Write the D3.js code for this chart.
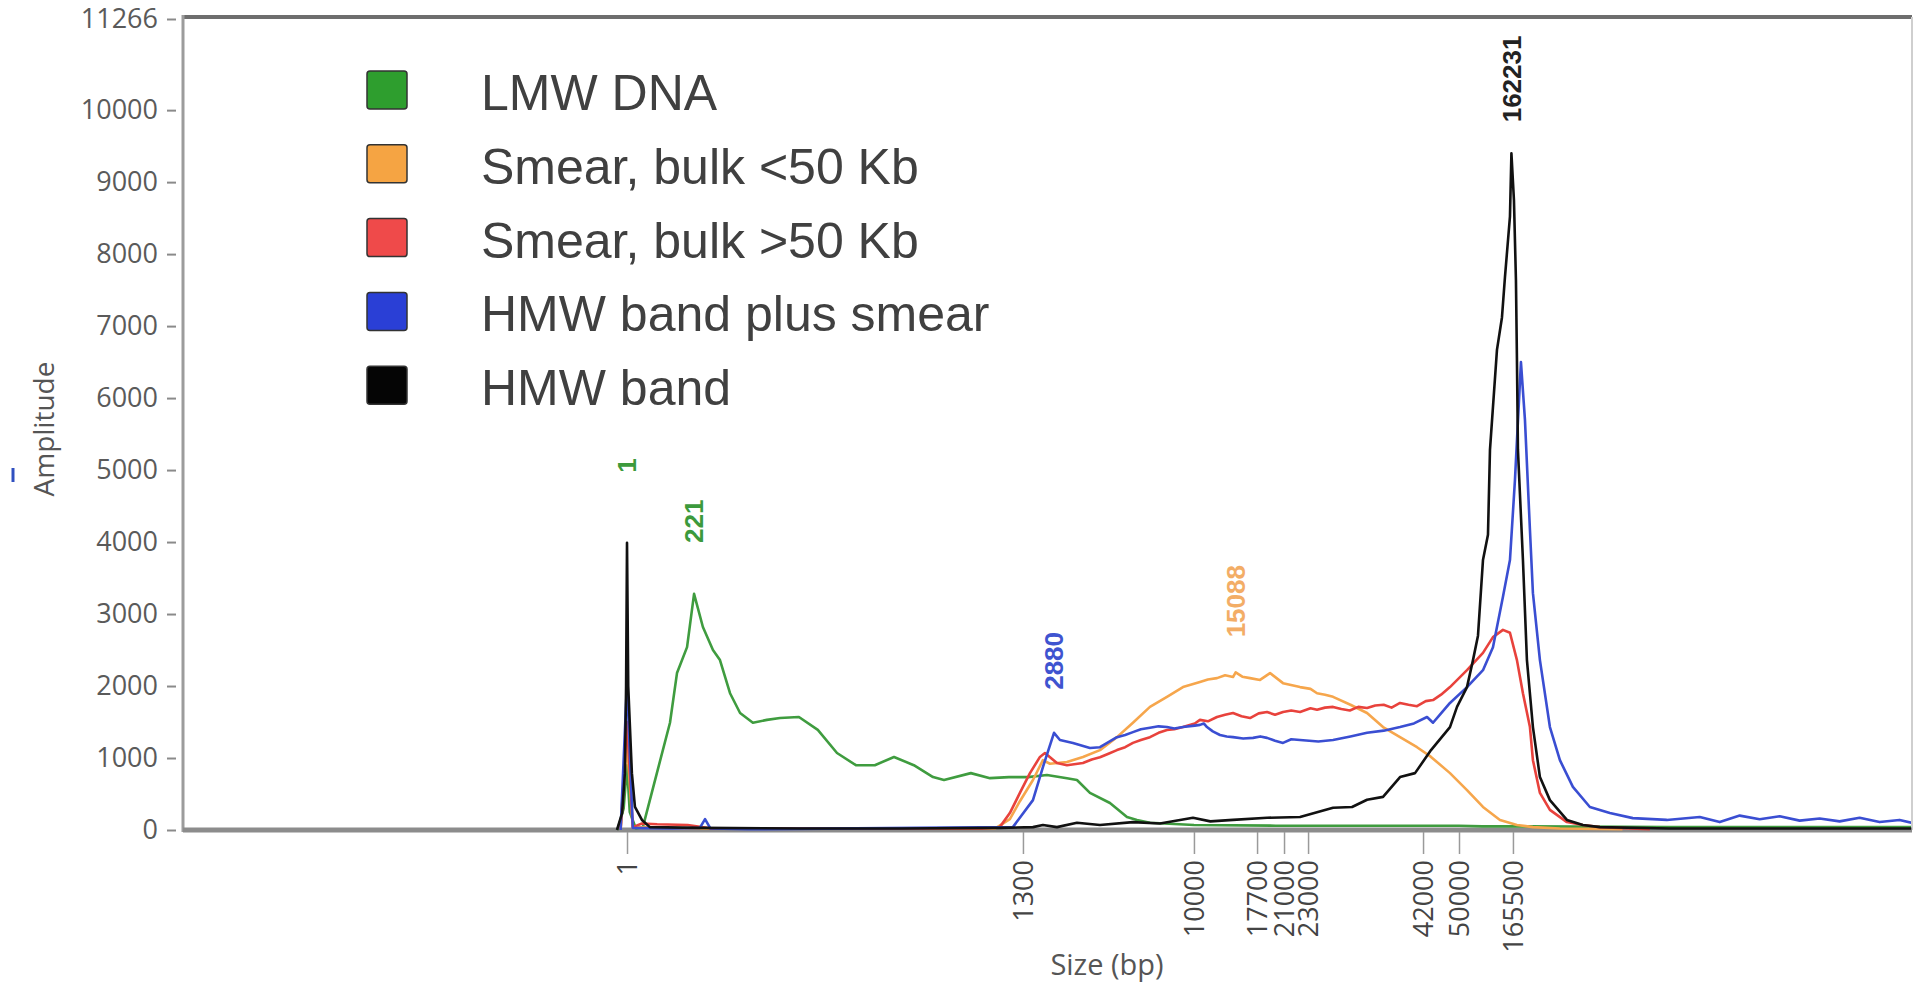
<!DOCTYPE html>
<html><head><meta charset="utf-8">
<script src="https://cdn.jsdelivr.net/npm/d3@7"></script>
<style>html,body{margin:0;padding:0;background:#fff;overflow:hidden}</style>
</head><body><svg id="c" width="1923" height="985"></svg>
<script>
// ---------------- DATA ----------------
const ladderSizes = [1, 1300, 10000, 17700, 21000, 23000, 42000, 50000, 165500];
const ladderTickLabels = ["1", "1300", "10000", "17700", "21000", "23000", "42000", "50000", "165500"];
const yTickValues = [0, 1000, 2000, 3000, 4000, 5000, 6000, 7000, 8000, 9000, 10000, 11266];
const yMax = 11266;

const seriesNames = ["LMW DNA", "Smear, bulk <50 Kb", "Smear, bulk >50 Kb", "HMW band plus smear", "HMW band"];

const lmwSize = [-30, -10, 1, 10, 30, 53, 99, 142, 165, 198, 221, 250, 283, 306, 339, 372, 414, 460, 503, 565, 627, 690, 752, 814, 877, 942, 1005, 1041, 1129, 1192, 1254, 1554, 2521, 3539, 4048, 4709, 5727, 6592, 7100, 7762, 10000, 20000, 50000, 100000, 200000, 500000, 1025000];
const lmwAmp  = [0, 300, 900, 250, 20, 40, 790, 1490, 2180, 2540, 3280, 2820, 2500, 2360, 1900, 1625, 1490, 1530, 1555, 1570, 1390, 1070, 900, 900, 1015, 900, 735, 695, 790, 720, 735, 735, 765, 720, 695, 515, 375, 180, 140, 100, 70, 60, 60, 50, 50, 40, 40];

const smearLowSize = [-20, 1, 20, 60, 150, 250, 1208, 1257, 1290, 1809, 2316, 2674, 3539, 4353, 5218, 6083, 6896, 7762, 8627, 9441, 10733, 11700, 12811, 13800, 14767, 15088, 15900, 16844, 18066, 19288, 20878, 22333, 23400, 24487, 25800, 27130, 30000, 32747, 35390, 38200, 41008, 43776, 47994, 67112, 101336, 137693, 174056, 208280, 266000, 400000];
const smearLowAmp  = [0, 1200, 30, 40, 30, 20, 20, 150, 400, 695, 970, 920, 945, 1015, 1110, 1290, 1490, 1710, 1850, 1985, 2055, 2090, 2110, 2150, 2125, 2190, 2130, 2110, 2085, 2180, 2040, 1985, 1960, 1900, 1880, 1850, 1740, 1625, 1430, 1290, 1150, 1015, 790, 555, 320, 140, 70, 40, 20, 10];

const smearHighSize = [-20, 1, 20, 50, 100, 200, 280, 1165, 1224, 1257, 1290, 1656, 2165, 2419, 3030, 3539, 4353, 4800, 5218, 5650, 6083, 6500, 6896, 7300, 7762, 8200, 8627, 9000, 9441, 10100, 10733, 11700, 12811, 13800, 14767, 15800, 16844, 17900, 18922, 19900, 20878, 21600, 22333, 23400, 24487, 25800, 27130, 28500, 29900, 31300, 32747, 34100, 35500, 36800, 38200, 39600, 41000, 42600, 44220, 46000, 47994, 67112, 101336, 122726, 144116, 159089, 174056, 186890, 201863, 208280, 223253, 244643, 281006, 315230, 351593, 458543];
const smearHighAmp  = [0, 1500, 40, 90, 80, 70, 20, 20, 40, 235, 515, 790, 1015, 1070, 930, 900, 930, 980, 1010, 1060, 1110, 1150, 1210, 1250, 1290, 1350, 1390, 1400, 1430, 1480, 1530, 1510, 1570, 1600, 1625, 1580, 1555, 1620, 1640, 1600, 1640, 1660, 1640, 1690, 1670, 1700, 1710, 1680, 1660, 1710, 1695, 1730, 1740, 1700, 1765, 1740, 1720, 1790, 1805, 1880, 1985, 2220, 2460, 2680, 2780, 2740, 2360, 1900, 1430, 970, 515, 280, 110, 70, 40, 10];

const hmwSmearSize = [-20, 1, 20, 150, 240, 257, 275, 400, 1267, 1809, 2316, 2880, 3183, 3844, 4709, 5218, 5650, 6083, 6500, 6896, 7300, 7762, 8200, 8627, 9000, 9441, 10100, 10733, 11200, 11589, 12300, 13178, 14000, 14767, 16000, 17211, 18100, 18922, 19900, 20878, 21600, 22333, 24700, 27130, 30000, 32747, 35500, 38200, 40500, 42888, 44220, 46000, 47994, 67112, 101336, 122726, 144116, 159089, 169784, 182618, 191174, 201869, 208286, 223259, 244649, 266039, 293846, 330209, 372989, 422186, 494906, 565493, 608273, 651053, 693833, 736613, 779393, 822173, 864953, 907733, 950513, 993293, 1025378];
const hmwSmearAmp  = [0, 2050, 30, 20, 30, 150, 20, 10, 40, 415, 875, 1350, 1250, 1210, 1140, 1150, 1220, 1290, 1320, 1360, 1400, 1420, 1440, 1430, 1410, 1430, 1450, 1460, 1480, 1430, 1370, 1320, 1300, 1290, 1270, 1280, 1300, 1280, 1240, 1210, 1260, 1250, 1230, 1250, 1300, 1350, 1380, 1430, 1480, 1570, 1490, 1620, 1765, 1985, 2220, 2540, 3240, 3750, 4860, 6500, 5700, 4170, 3290, 2360, 1430, 970, 600, 320, 235, 165, 140, 180, 110, 200, 150, 190, 130, 160, 120, 170, 110, 140, 90];

const hmwBandSize = [-32, -15, -6, -2, 1, 5, 17, 27, 50, 76, 240, 568, 896, 1224, 1809, 2316, 3030, 4048, 5218, 6896, 8270, 9950, 12000, 14767, 18922, 22333, 27130, 30269, 32747, 35390, 38200, 40678, 43776, 47994, 49556, 67112, 79946, 90641, 101336, 112031, 116309, 131282, 141977, 148394, 159089, 162231, 167639, 171917, 174056, 176195, 186890, 195446, 208280, 223253, 244643, 281006, 315230, 351593, 500000, 1025000];
const hmwBandAmp  = [0, 235, 790, 2000, 3990, 2000, 790, 320, 140, 40, 30, 20, 20, 30, 40, 70, 40, 100, 70, 110, 90, 170, 120, 140, 170, 180, 310, 320, 420, 460, 735, 790, 1110, 1430, 1710, 1985, 2360, 2700, 3750, 4100, 5280, 6670, 7120, 7680, 8520, 9400, 8750, 7640, 6530, 5280, 3750, 2360, 1430, 735, 415, 140, 70, 40, 20, 20];

const peakLabelText = ["1", "221", "2880", "15088", "162231"];
const peakLabelSize = [1, 221, 2880, 15088, 162231];
const peakLabelAmp  = [3990, 3280, 1350, 2190, 9400];
const peakLabelSeries = [0, 0, 3, 1, 4];

// ---------------- STYLE / LAYOUT ----------------
const lineColors  = ["#3f9c3f", "#f6a64c", "#e8423c", "#3a4ed2", "#111111"];
const swatchColors = ["#2e9e2e", "#f5a443", "#ef4a4a", "#2a3fd6", "#050505"];
const labelColors = ["#3c9a3c", "#f3ad66", "#e8423c", "#3f54d0", "#222222"];
const labelGap = [70, 51, 43, 35, 31];

const plot = {left: 183, right: 1912, top: 17, bottom: 830};
const ladderFrac = [0.2568, 0.4858, 0.5847, 0.6212, 0.6368, 0.6507, 0.7172, 0.7380, 0.7692];
const pw = plot.right - plot.left;

const x = d3.scaleLinear().domain(ladderSizes).range(ladderFrac.map(f => plot.left + f * pw));
const y = d3.scaleLinear().domain([0, yMax]).range([plot.bottom, 19]);

const svg = d3.select("#c");
svg.append("rect").attr("width", 1923).attr("height", 985).attr("fill", "#fff");

svg.append("defs").append("clipPath").attr("id", "clip")
  .append("rect").attr("x", plot.left + 1).attr("y", plot.top).attr("width", pw - 2).attr("height", plot.bottom - plot.top + 2);

// frame
svg.append("line").attr("x1", plot.left).attr("x2", plot.right).attr("y1", plot.top).attr("y2", plot.top)
  .attr("stroke", "#6e6e6e").attr("stroke-width", 4);
svg.append("line").attr("x1", plot.right).attr("x2", plot.right).attr("y1", plot.top).attr("y2", plot.bottom)
  .attr("stroke", "#cfcfcf").attr("stroke-width", 2);
svg.append("line").attr("x1", plot.left).attr("x2", plot.left).attr("y1", plot.top - 2).attr("y2", plot.bottom + 2)
  .attr("stroke", "#9c9c9c").attr("stroke-width", 3);

// y axis
const yAxis = d3.axisLeft(y).tickValues(yTickValues).tickSize(9).tickPadding(9).tickFormat(d => String(d));
const gy = svg.append("g").attr("transform", `translate(${plot.left - 7},0)`).call(yAxis);
gy.select(".domain").remove();
gy.selectAll(".tick line").attr("stroke", "#8a8a8a").attr("stroke-width", 2);
gy.selectAll(".tick text").attr("font-family", "'Open Sans', sans-serif").attr("font-size", 27)
  .attr("fill", "#5a5a5a");

// baseline
svg.append("line").attr("x1", plot.left).attr("x2", plot.right).attr("y1", plot.bottom).attr("y2", plot.bottom)
  .attr("stroke", "#8c8c8c").attr("stroke-width", 5);

// x axis
const xAxis = d3.axisBottom(x).tickValues(ladderSizes).tickSize(22).tickFormat((d, i) => ladderTickLabels[i]);
const gx = svg.append("g").attr("transform", `translate(0,${plot.bottom + 2})`).call(xAxis);
gx.select(".domain").remove();
gx.selectAll(".tick line").attr("stroke", "#9a9a9a").attr("stroke-width", 1.5);
gx.selectAll(".tick text")
  .attr("transform", "rotate(-90)")
  .attr("x", -28).attr("y", 0).attr("dy", "0.36em")
  .attr("text-anchor", "end")
  .attr("font-family", "'Open Sans', sans-serif").attr("font-size", 27).attr("fill", "#444");

// axis titles
svg.append("text").attr("transform", "translate(54,429) rotate(-90)")
  .attr("text-anchor", "middle").attr("font-family", "'Open Sans', sans-serif").attr("font-size", 28)
  .attr("fill", "#555").text("Amplitude");
svg.append("text").attr("x", 1107).attr("y", 975)
  .attr("text-anchor", "middle").attr("font-family", "'Open Sans', sans-serif").attr("font-size", 29)
  .attr("fill", "#555").text("Size (bp)");
svg.append("line").attr("x1", 13).attr("x2", 13).attr("y1", 468).attr("y2", 482)
  .attr("stroke", "#3050c0").attr("stroke-width", 3);

// curves
const allSeries = [
  {size: lmwSize, amp: lmwAmp},
  {size: smearLowSize, amp: smearLowAmp},
  {size: smearHighSize, amp: smearHighAmp},
  {size: hmwSmearSize, amp: hmwSmearAmp},
  {size: hmwBandSize, amp: hmwBandAmp}
];
const line = d3.line().x(d => x(d[0])).y(d => y(d[1]));
const gc = svg.append("g").attr("clip-path", "url(#clip)");
allSeries.forEach((s, i) => {
  const pts = s.size.map((v, k) => [v, s.amp[k]]);
  gc.append("path").datum(pts).attr("d", line).attr("fill", "none")
    .attr("stroke", lineColors[i]).attr("stroke-width", 2.6).attr("stroke-linejoin", "round");
});

// peak labels
peakLabelText.forEach((t, i) => {
  const px = x(peakLabelSize[i]);
  const py = y(peakLabelAmp[i]) - labelGap[i];
  svg.append("text").attr("transform", `translate(${px},${py}) rotate(-90)`)
    .attr("text-anchor", "start").attr("dy", "0.36em")
    .attr("font-family", "'Liberation Sans', Arial, sans-serif").attr("font-weight", "bold")
    .attr("font-size", 26).attr("fill", labelColors[peakLabelSeries[i]]).text(t);
});

// legend
const lg = svg.append("g");
seriesNames.forEach((n, i) => {
  const base = 110 + i * 73.8;
  lg.append("rect").attr("x", 367).attr("y", base - 39).attr("width", 40).attr("height", 38).attr("rx", 3)
    .attr("fill", swatchColors[i]).attr("stroke", "#333").attr("stroke-width", 1.5);
  lg.append("text").attr("x", 481).attr("y", base)
    .attr("font-family", "'Liberation Sans', Arial, sans-serif").attr("font-size", 50)
    .attr("fill", "#404040").text(n);
});
</script></body></html>
